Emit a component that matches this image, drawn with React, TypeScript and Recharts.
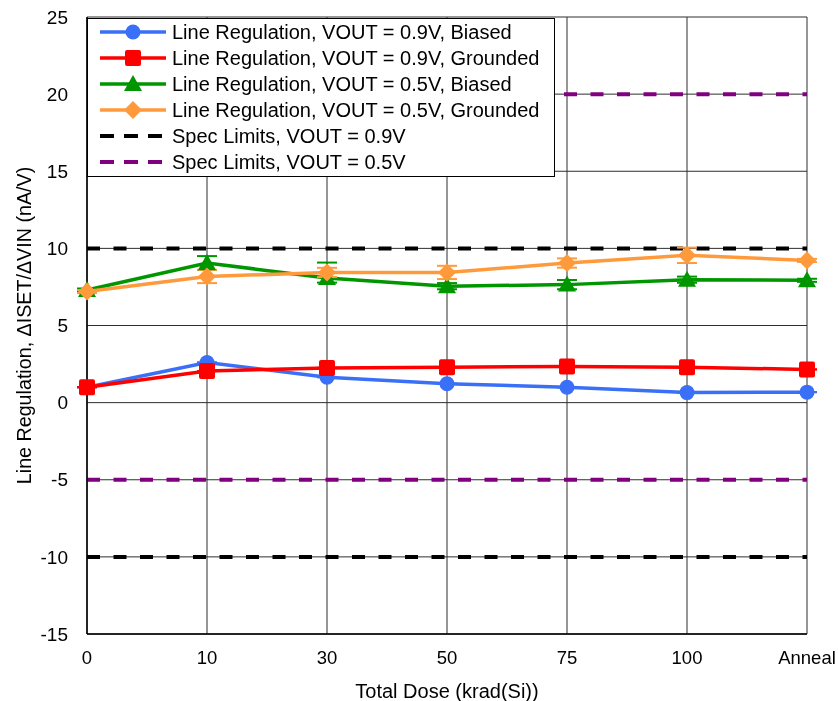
import React from "react";
import {
    LineChart,
    Line,
    XAxis,
    YAxis,
    CartesianGrid,
    ReferenceLine,
    ErrorBar,
    Legend,
} from "recharts";

// Total dose steps (krad(Si)) plus the post-irradiation anneal
const doses = ["0", "10", "30", "50", "75", "100", "Anneal"];

// Line regulation, nA/V
const biased09 = [1.0, 2.6, 1.65, 1.22, 1.0, 0.65, 0.68];
const grounded09 = [1.0, 2.05, 2.25, 2.3, 2.35, 2.3, 2.15];
const biased05 = [7.3, 9.05, 8.08, 7.55, 7.65, 7.97, 7.93];
const grounded05 = [7.2, 8.18, 8.44, 8.44, 9.05, 9.55, 9.22];

// spread across units, [minus, plus]
const biased09Err = [[0, 0], [0, 0], [0, 0], [0, 0], [0, 0], [0, 0], [0, 0]];
const grounded09Err = [[0, 0], [0, 0], [0, 0], [0, 0], [0, 0], [0, 0], [0, 0]];
const biased05Err = [[0.1, 0.1], [0.45, 0.45], [0.3, 1.0], [0.2, 0.2], [0.3, 0.3], [0.2, 0.2], [0.1, 0.1]];
const grounded05Err = [[0.1, 0.1], [0.43, 0.43], [0.3, 0.3], [0.43, 0.43], [0.3, 0.3], [0.5, 0.5], [0.1, 0.1]];

// spec limits
const spec09 = [10, -10];
const spec05 = [20, -5];

const yTicks = [-15, -10, -5, 0, 5, 10, 15, 20, 25];

const data = doses.map((dose, i) => ({
    dose,
    b09: biased09[i],
    g09: grounded09[i],
    b05: biased05[i],
    g05: grounded05[i],
    b09err: biased09Err[i],
    g09err: grounded09Err[i],
    b05err: biased05Err[i],
    g05err: grounded05Err[i],
}));

const FONT = '"Liberation Sans", Arial, Helvetica, sans-serif';

type Shape = "circle" | "square" | "triangle" | "diamond";

const Marker = ({ cx, cy, shape, color }: { cx: number; cy: number; shape: Shape; color: string }) => {
    if (cx == null || cy == null) return null;
    if (shape === "circle") return <circle cx={cx} cy={cy} r={7.5} fill={color} />;
    if (shape === "square")
        return <rect x={cx - 8} y={cy - 8} width={16} height={16} rx={2} fill={color} />;
    if (shape === "triangle")
        return <polygon points={`${cx},${cy - 9} ${cx + 9},${cy + 7} ${cx - 9},${cy + 7}`} fill={color} />;
    return <polygon points={`${cx},${cy - 9} ${cx + 9},${cy} ${cx},${cy + 9} ${cx - 9},${cy}`} fill={color} />;
};

const series = [
    { key: "b09", err: "b09err", name: "Line Regulation, VOUT = 0.9V, Biased", color: "#3a6ff7", shape: "circle" as Shape },
    { key: "g09", err: "g09err", name: "Line Regulation, VOUT = 0.9V, Grounded", color: "#ff0000", shape: "square" as Shape },
    { key: "b05", err: "b05err", name: "Line Regulation, VOUT = 0.5V, Biased", color: "#009600", shape: "triangle" as Shape },
    { key: "g05", err: "g05err", name: "Line Regulation, VOUT = 0.5V, Grounded", color: "#ff9a3c", shape: "diamond" as Shape },
];

const limits = [
    { name: "Spec Limits, VOUT = 0.9V", color: "#000000", values: spec09 },
    { name: "Spec Limits, VOUT = 0.5V", color: "#800080", values: spec05 },
];

const LegendBox = () => {
    const rows = [
        ...series.map((s) => ({ ...s, dashed: false })),
        ...limits.map((l) => ({ ...l, shape: null as Shape | null, dashed: true })),
    ];
    return (
        <div
            style={{
                width: 468,
                height: 159,
                background: "#fff",
                border: "1.5px solid #000",
                boxSizing: "border-box",
                fontFamily: FONT,
                fontSize: 20,
                color: "#000",
            }}
        >
            {rows.map((r, i) => (
                <div key={i} style={{ display: "flex", alignItems: "center", height: 26 }}>
                    <svg width={84} height={26} style={{ flex: "none" }}>
                        <line
                            x1={12}
                            x2={78}
                            y1={13}
                            y2={13}
                            stroke={r.color}
                            strokeWidth={r.dashed ? 4 : 3.5}
                            strokeDasharray={r.dashed ? "14 10" : undefined}
                        />
                        {r.shape && <Marker cx={45} cy={13} shape={r.shape} color={r.color} />}
                    </svg>
                    <span style={{ whiteSpace: "nowrap" }}>{r.name}</span>
                </div>
            ))}
        </div>
    );
};

const App: React.FC = () => {
    return (
        <div style={{ position: "fixed", left: 0, top: 0, width: 838, height: 701 }}>
            <LineChart
                width={838}
                height={701}
                data={data}
                margin={{ top: 17, right: 31, left: 0, bottom: 0 }}
                style={{ fontFamily: FONT }}
            >
                <CartesianGrid stroke="#2e2e2e" strokeWidth={1} />
                <XAxis
                    dataKey="dose"
                    scale="point"
                    padding={{ left: 0, right: 0 }}
                    height={67}
                    tickLine={false}
                    tickSize={6}
                    tickMargin={11}
                    axisLine={{ stroke: "#000", strokeWidth: 1.5 }}
                    tick={{ fill: "#000", fontSize: 18.5 }}
                    label={{
                        value: "Total Dose (krad(Si))",
                        position: "insideBottom",
                        offset: 3,
                        fill: "#000",
                        fontSize: 20,
                    }}
                />
                <YAxis
                    width={87}
                    domain={[-15, 25]}
                    ticks={yTicks}
                    interval={0}
                    tickLine={false}
                    tickSize={6}
                    tickMargin={13}
                    axisLine={{ stroke: "#000", strokeWidth: 1.5 }}
                    tick={{ fill: "#000", fontSize: 19 }}
                    label={{
                        value: "Line Regulation, \u0394ISET/\u0394VIN (nA/V)",
                        angle: -90,
                        position: "insideLeft",
                        offset: 24,
                        fill: "#000",
                        fontSize: 19.7,
                        style: { textAnchor: "middle" },
                    }}
                />
                {limits.map((l) =>
                    l.values.map((v) => (
                        <ReferenceLine
                            key={`${l.name}-${v}`}
                            y={v}
                            stroke={l.color}
                            strokeWidth={4}
                            strokeDasharray="13 13.5"
                        />
                    ))
                )}
                {series.map((s) => (
                    <Line
                        key={s.key}
                        dataKey={s.key}
                        name={s.name}
                        stroke={s.color}
                        strokeWidth={3.5}
                        isAnimationActive={false}
                        dot={(p: any) => (
                            <Marker key={`${s.key}-${p.index}`} cx={p.cx} cy={p.cy} shape={s.shape} color={s.color} />
                        )}
                        activeDot={false}
                    >
                        <ErrorBar dataKey={s.err} width={10} stroke={s.color} strokeWidth={2} isAnimationActive={false} />
                    </Line>
                ))}
                <Legend
                    layout="vertical"
                    align="center"
                    verticalAlign="middle"
                    wrapperStyle={{ left: 87, top: 18, width: 468, height: 159 }}
                    content={() => <LegendBox />}
                />
            </LineChart>
        </div>
    );
};

export default App;
